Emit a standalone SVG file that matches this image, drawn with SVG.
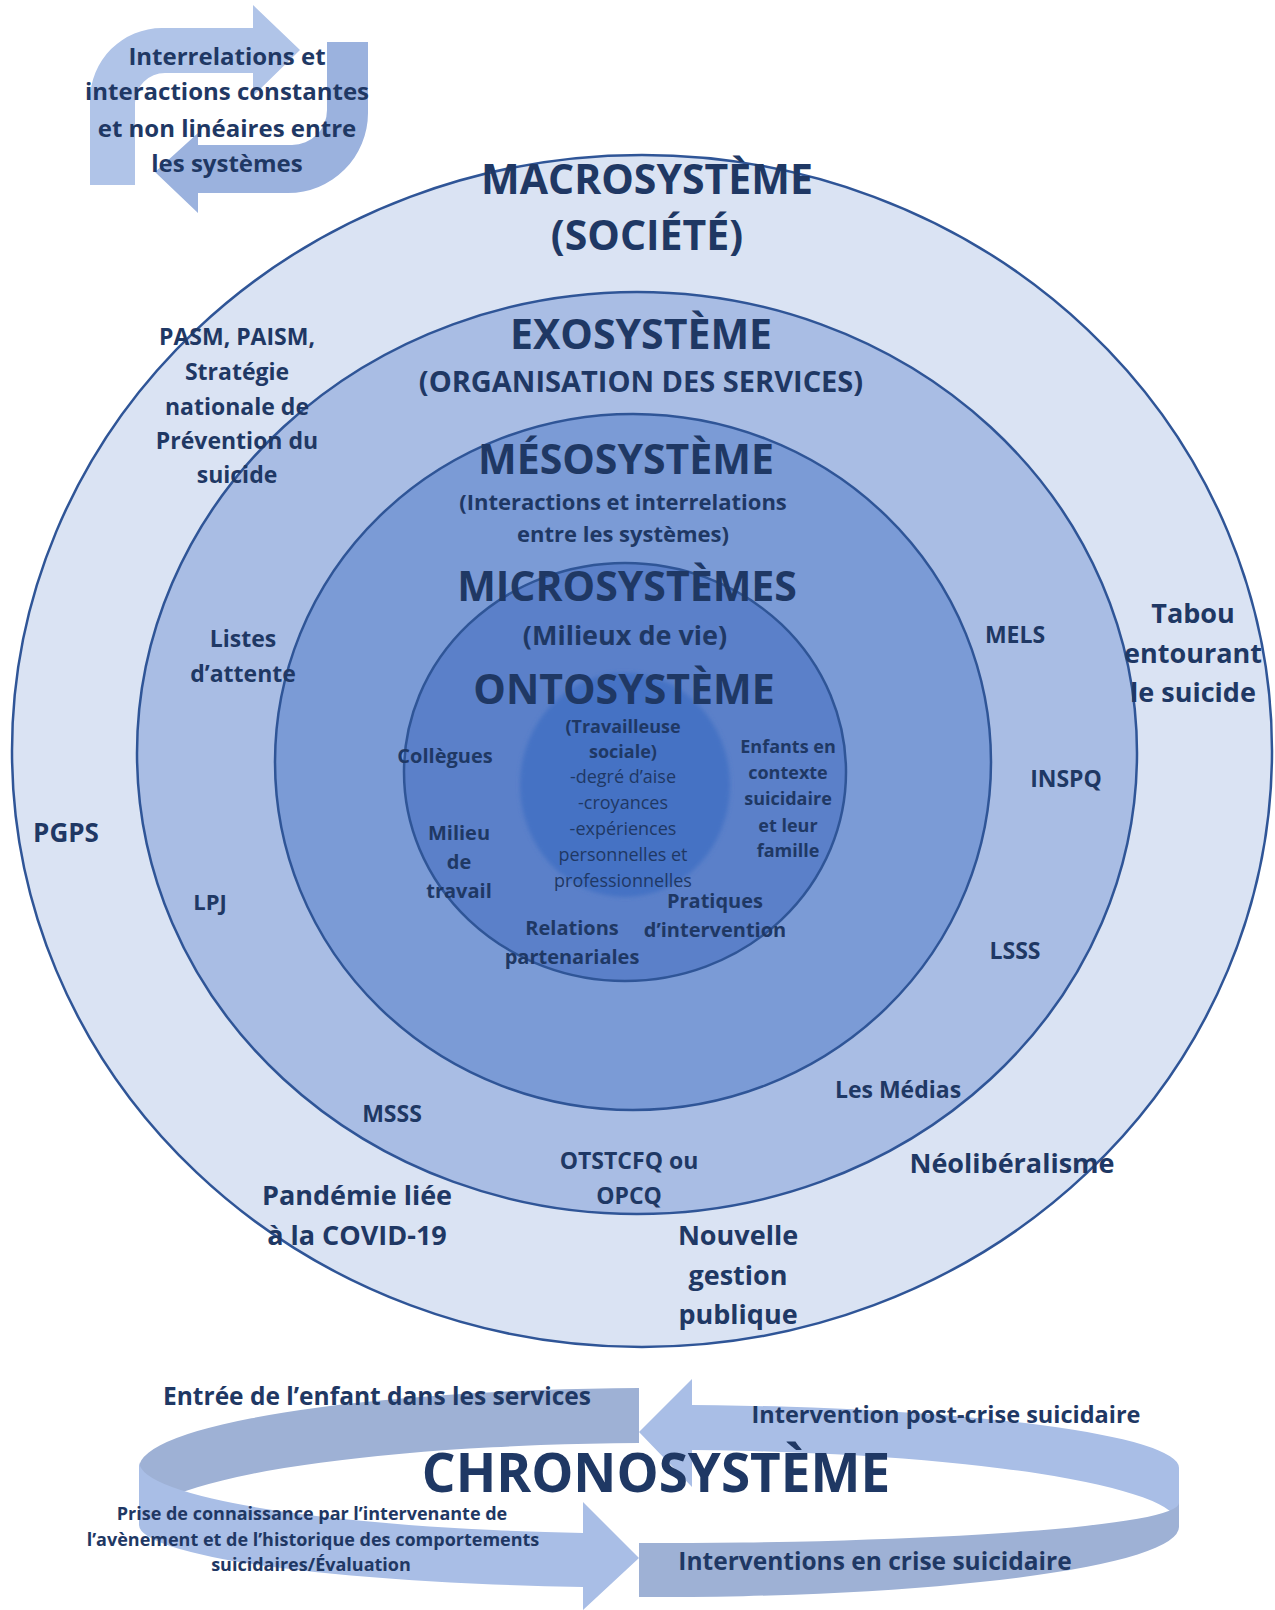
<svg xmlns="http://www.w3.org/2000/svg" width="1275" height="1610" viewBox="0 0 1275 1610">
<style>
.t{font-family:"Open Sans","Noto Sans",sans-serif;font-weight:700;fill:#1f3864;text-anchor:middle}
.r{font-weight:400}
.ring{stroke:#2f5597;stroke-width:2.5}
.s40{font-size:41px}
.s29{font-size:29px}
.s27{font-size:27px}
.s23{font-size:23px}
.s22{font-size:22px}
.s20{font-size:20px}
.s18{font-size:18px}
.s24{font-size:24px}
.dark{fill:#9eb1d5}
.light{fill:#a9bee6}
</style>
<defs>
<filter id="soft" x="-10%" y="-10%" width="120%" height="120%"><feGaussianBlur stdDeviation="2"/></filter>
</defs>
<rect width="1275" height="1610" fill="#ffffff"/>

<g id="connectors">
<path d="M 90 185 L 90 100 A 72 72 0 0 1 162 28 L 253 28 L 253 5 L 300 50 L 253 96 L 253 73 L 165 73 A 30 30 0 0 0 135 103 L 135 185 Z" fill="#b0c4e8"/>
<path d="M 327 42 L 368 42 L 368 113 A 80 80 0 0 1 288 193 L 198 193 L 198 213 L 155 172 L 198 133 L 198 145 L 292 145 A 35 35 0 0 0 327 110 Z" fill="#9bb2de"/>
</g>

<g id="interrelations">
<text class="t s24" x="227" y="65">Interrelations et</text>
<text class="t s24" x="227" y="100">interactions constantes</text>
<text class="t s24" x="227" y="137">et non linéaires entre</text>
<text class="t s24" x="227" y="172">les systèmes</text>
</g>

<g id="macrosysteme">
<ellipse class="ring" cx="642" cy="751" rx="630" ry="596" fill="#dae3f3"/>
</g>
<g id="exosysteme">
<ellipse class="ring" cx="637" cy="753" rx="500" ry="461" fill="#a9bde4"/>
</g>
<g id="mesosysteme">
<ellipse class="ring" cx="633" cy="762" rx="358" ry="348" fill="#7b9bd6"/>
</g>
<g id="microsystemes">
<ellipse class="ring" cx="625" cy="772" rx="221" ry="209" fill="#5b80c9"/>
</g>
<g id="ontosysteme">
<ellipse cx="625" cy="785" rx="105" ry="112" fill="#4472c4" filter="url(#soft)"/>
</g>

<g id="macrosysteme-labels">
<text class="t s40" x="647" y="194">MACROSYSTÈME</text>
<text class="t s40" x="647" y="250">(SOCIÉTÉ)</text>
<text class="t s23" x="237" y="345">PASM, PAISM,</text>
<text class="t s23" x="237" y="380">Stratégie</text>
<text class="t s23" x="237" y="415">nationale de</text>
<text class="t s23" x="237" y="449">Prévention du</text>
<text class="t s23" x="237" y="483">suicide</text>
<text class="t" style="font-size:26px" x="66" y="842">PGPS</text>
<text class="t s27" x="1193" y="623">Tabou</text>
<text class="t s27" x="1193" y="663">entourant</text>
<text class="t s27" x="1193" y="702">le suicide</text>
<text class="t s27" x="357" y="1205">Pandémie liée</text>
<text class="t s27" x="357" y="1245">à la COVID-19</text>
<text class="t s27" x="1012" y="1173">Néolibéralisme</text>
<text class="t s27" x="738" y="1245">Nouvelle</text>
<text class="t s27" x="738" y="1285">gestion</text>
<text class="t s27" x="738" y="1324">publique</text>
</g>

<g id="exosysteme-labels">
<text class="t s40" x="641" y="349">EXOSYSTÈME</text>
<text class="t s29" x="641" y="392">(ORGANISATION DES SERVICES)</text>
<text class="t s23" x="243" y="647">Listes</text>
<text class="t s23" x="243" y="682">d’attente</text>
<text class="t s22" x="210" y="910">LPJ</text>
<text class="t s23" x="392" y="1122">MSSS</text>
<text class="t s23" x="629" y="1169">OTSTCFQ ou</text>
<text class="t s23" x="629" y="1204">OPCQ</text>
<text class="t s23" x="898" y="1098">Les Médias</text>
<text class="t s23" x="1015" y="643">MELS</text>
<text class="t s23" x="1066" y="787">INSPQ</text>
<text class="t s23" x="1015" y="959">LSSS</text>
</g>

<g id="mesosysteme-labels">
<text class="t s40" x="626" y="474">MÉSOSYSTÈME</text>
<text class="t s22" x="623" y="510">(Interactions et interrelations</text>
<text class="t s22" x="623" y="542">entre les systèmes)</text>
</g>

<g id="microsystemes-labels">
<text class="t s40" x="627" y="601">MICROSYSTÈMES</text>
<text class="t s27" x="625" y="645">(Milieux de vie)</text>
<text class="t s20" x="445" y="763">Collègues</text>
<text class="t s20" x="459" y="840">Milieu</text>
<text class="t s20" x="459" y="869">de</text>
<text class="t s20" x="459" y="898">travail</text>
<text class="t s18" x="788" y="753">Enfants en</text>
<text class="t s18" x="788" y="779">contexte</text>
<text class="t s18" x="788" y="805">suicidaire</text>
<text class="t s18" x="788" y="832">et leur</text>
<text class="t s18" x="788" y="857">famille</text>
<text class="t s20" x="715" y="908">Pratiques</text>
<text class="t s20" x="715" y="937">d’intervention</text>
<text class="t s20" x="572" y="935">Relations</text>
<text class="t s20" x="572" y="964">partenariales</text>
</g>

<g id="ontosysteme-labels">
<text class="t s40" x="624" y="704">ONTOSYSTÈME</text>
<text class="t s18" x="623" y="733">(Travailleuse</text>
<text class="t s18" x="623" y="758">sociale)</text>
<text class="t r s18" x="623" y="783">-degré d’aise</text>
<text class="t r s18" x="623" y="809">-croyances</text>
<text class="t r s18" x="623" y="835">-expériences</text>
<text class="t r s18" x="623" y="861">personnelles et</text>
<text class="t r s18" x="623" y="887">professionnelles</text>
</g>

<g id="chronosysteme">
<path class="dark" d="M 139 1468 A 520 80 0 0 1 639 1388 L 639 1443 A 520 82 0 0 0 139 1525 Z"/>
<path class="light" d="M 692 1405 A 520 63 0 0 1 1179 1468 L 1179 1525 A 520 75 0 0 0 692 1450 L 692 1487 L 639 1432 L 692 1379 Z"/>
<path class="dark" d="M 639 1543 A 520 40 0 0 0 1179 1503 L 1179 1527 A 520 70 0 0 1 639 1597 Z"/>
<path class="light" d="M 139 1462 A 520 72 0 0 0 583 1533 L 583 1502 L 639 1558 L 583 1610 L 583 1587 A 520 63 0 0 1 139 1525 Z"/>
<text class="t" style="font-size:24.5px" x="377" y="1405">Entrée de l’enfant dans les services</text>
<text class="t" style="font-size:23.5px" x="946" y="1423">Intervention post-crise suicidaire</text>
<text class="t" style="font-size:53px" x="656" y="1492">CHRONOSYSTÈME</text>
<text class="t s18" x="312" y="1520">Prise de connaissance par l’intervenante de</text>
<text class="t s18" x="313" y="1546">l’avènement et de l’historique des comportements</text>
<text class="t s18" x="311" y="1571">suicidaires/Évaluation</text>
<text class="t" style="font-size:24.5px" x="875" y="1570">Interventions en crise suicidaire</text>
</g>
</svg>
